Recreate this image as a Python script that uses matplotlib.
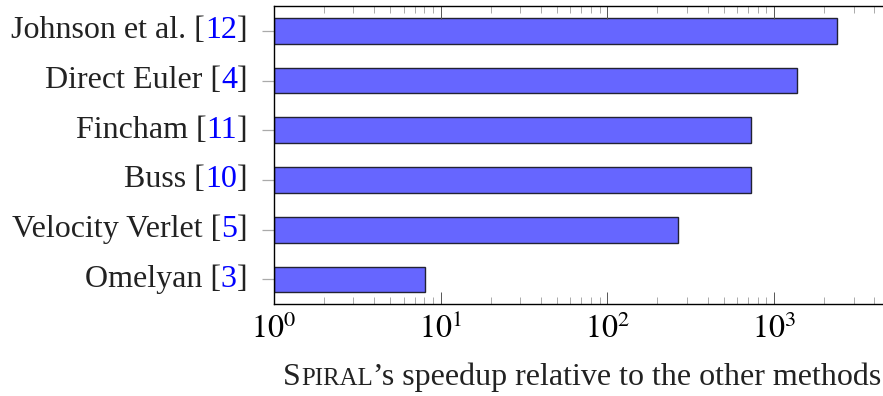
import matplotlib
matplotlib.use('Agg')
import matplotlib.pyplot as plt
import numpy as np
from matplotlib.offsetbox import TextArea, HPacker, AnnotationBbox
from matplotlib.ticker import LogLocator

plt.rcParams['font.family'] = 'Liberation Serif'
plt.rcParams['mathtext.fontset'] = 'stix'

# data (bottom to top)
methods = ['Omelyan', 'Velocity Verlet', 'Buss', 'Fincham', 'Direct Euler', 'Johnson et al.']
refs = ['3', '5', '10', '11', '4', '12']
speedup = [8.1, 264, 725, 725, 1380, 2380]

fs = 23
fig = plt.figure(figsize=(8.83, 3.96), dpi=100)
ax = fig.add_axes([0.3102, 0.2316, 0.6983, 0.7533])

ypos = np.arange(len(methods))
ax.barh(ypos, np.array(speedup) - 1, left=1, height=0.52, color='#6666ff',
        edgecolor='#222233', linewidth=1.0)

ax.set_xscale('log')
ax.set_xlim(1, 5000)
ax.set_ylim(-0.5, len(methods) - 0.5)
ax.spines['right'].set_visible(False)
for s in ['left', 'top', 'bottom']:
    ax.spines[s].set_linewidth(1.0)

ax.xaxis.set_major_locator(LogLocator(base=10, numticks=10))
ax.xaxis.set_minor_locator(LogLocator(base=10, subs=np.arange(2, 10), numticks=10))
ax.tick_params(axis='x', which='major', direction='in', top=True, bottom=True,
               length=9, width=0.7, color='#555555', labelsize=fs, pad=7)
ax.tick_params(axis='x', which='minor', direction='in', top=True, bottom=True,
               length=5, width=0.7, color='#aaaaaa')
ax.set_xticks([1, 10, 100, 1000])
ax.set_xticklabels([r'$10^{0}$', r'$10^{1}$', r'$10^{2}$', r'$10^{3}$'])

ax.set_yticks(ypos)
ax.set_yticklabels([''] * len(methods))
ax.tick_params(axis='y', direction='out', length=9, width=0.9, color='#aaaaaa', left=True, right=False)

# y labels with blue citation numbers
for y, m, r in zip(ypos, methods, refs):
    parts = [TextArea(m + ' [', textprops=dict(size=fs, color='#222222')),
             TextArea(r, textprops=dict(size=fs, color='#0000ff')),
             TextArea(']', textprops=dict(size=fs, color='#222222'))]
    box = HPacker(children=parts, align='baseline', pad=0, sep=0)
    ab = AnnotationBbox(box, (0, y), xycoords=ax.get_yaxis_transform(),
                        xybox=(-19, 0), boxcoords='offset points',
                        box_alignment=(1, 0.5), frameon=False)
    ax.add_artist(ab)

# x label with small caps "Spiral"
xl = [TextArea('S', textprops=dict(size=fs, color='#222222')),
      TextArea('PIRAL', textprops=dict(size=fs * 0.78, color='#222222')),
      TextArea('\u2019s speedup relative to the other methods', textprops=dict(size=fs, color='#222222'))]
xbox = HPacker(children=xl, align='baseline', pad=0, sep=0)
ab = AnnotationBbox(xbox, (0.5, 0), xycoords=ax.transAxes, xybox=(0, -42),
                    boxcoords='offset points', box_alignment=(0.5, 1), frameon=False)
ax.add_artist(ab)

fig.savefig('out.png', dpi=100)
